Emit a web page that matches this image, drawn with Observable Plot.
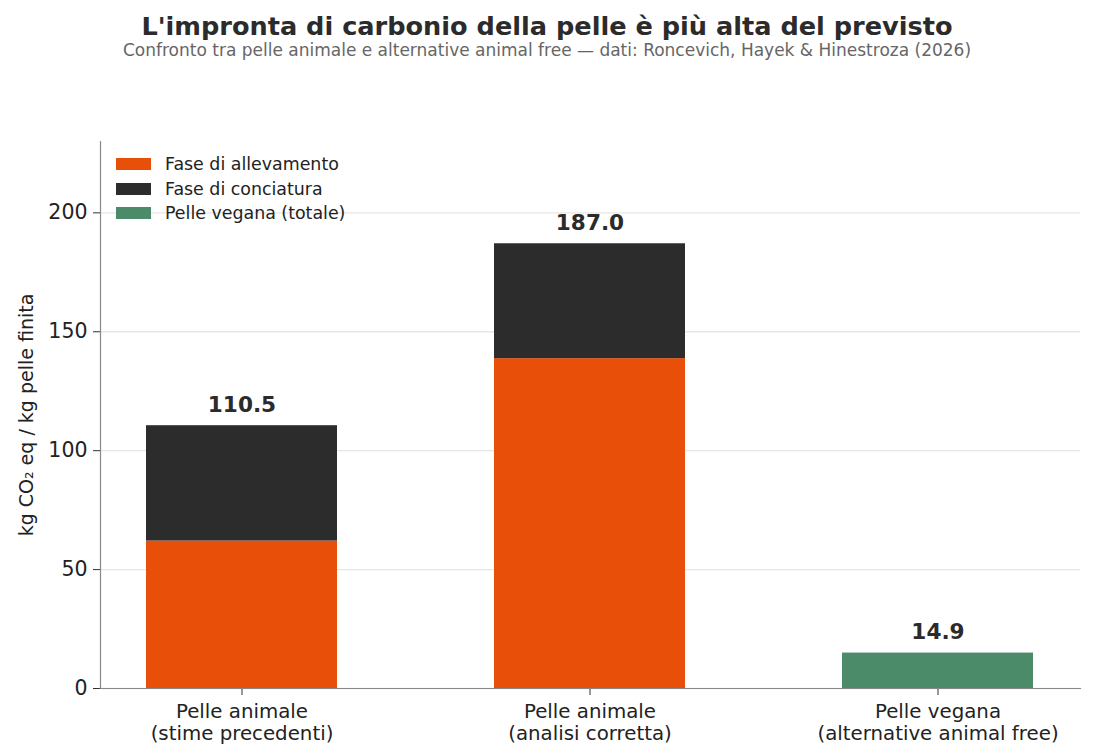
<!DOCTYPE html>
<html>
<head>
<meta charset="utf-8">
<script src="https://cdn.jsdelivr.net/npm/d3@7"></script>
<script src="https://cdn.jsdelivr.net/npm/@observablehq/plot@0.6"></script>
<style>
  html, body { margin: 0; padding: 0; background: white; }
  body { width: 1094px; height: 754px; position: relative; font-family: "DejaVu Sans", sans-serif; overflow: hidden; }
  #title { position: absolute; top: 11px; left: 0; width: 1094px; text-align: center; font-size: 25.6px; font-weight: bold; color: #2b2b2b; line-height: 30px; }
  #subtitle { position: absolute; top: 40px; left: 0; width: 1094px; text-align: center; font-size: 17px; color: #666; line-height: 20px; }
  #chart { position: absolute; top: 0; left: 0; }
  #legend { position: absolute; left: 116px; top: 152px; font-size: 17.4px; color: #222; }
  .row { display: flex; align-items: center; height: 24.5px; }
  .sw { width: 35px; height: 12px; margin-right: 14px; }
</style>
</head>
<body>
<div id="chart"></div>
<div id="title"></div>
<div id="subtitle"></div>
<div id="legend"></div>
<script>
const titleText = "L'impronta di carbonio della pelle è più alta del previsto";
const subtitleText = "Confronto tra pelle animale e alternative animal free — dati: Roncevich, Hayek & Hinestroza (2026)";
const yLabel = "kg CO₂ eq / kg pelle finita";

const categories = [
  "Pelle animale\n(stime precedenti)",
  "Pelle animale\n(analisi corretta)",
  "Pelle vegana\n(alternative animal free)"
];
const series = ["Fase di allevamento", "Fase di conciatura", "Pelle vegana (totale)"];
const allevamento = [62, 138.7, 0];
const conciatura = [48.5, 48.3, 0];
const vegana = [0, 0, 14.9];
const totals = [110.5, 187.0, 14.9];
const colors = ["#e8500a", "#2c2c2c", "#4c8b6a"];
const yTicks = [0, 50, 100, 150, 200];

document.getElementById("title").textContent = titleText;
document.getElementById("subtitle").textContent = subtitleText;

const data = [];
categories.forEach((c, i) => {
  [allevamento, conciatura, vegana].forEach((arr, s) => {
    if (arr[i] > 0) data.push({cat: c, series: series[s], value: arr[i]});
  });
});
const totalsData = categories.map((c, i) => ({cat: c, total: totals[i]}));

const chart = Plot.plot({
  width: 1094,
  height: 754,
  marginTop: 141,
  marginBottom: 66,
  marginLeft: 100,
  marginRight: 14,
  x: {domain: categories, paddingInner: 0.45, paddingOuter: 0.131, label: null},
  y: {domain: [0, 230], ticks: yTicks, label: null},
  color: {domain: series, range: colors},
  style: {fontFamily: "DejaVu Sans", fontSize: "19px", color: "#222", background: "white"},
  marks: [
    Plot.gridY(yTicks, {stroke: "#e6e6e6", strokeOpacity: 1, strokeWidth: 1.3}),
    Plot.barY(data, {x: "cat", y: "value", fill: "series"}),
    Plot.text(totalsData, {x: "cat", y: "total", text: d => d.total.toFixed(1), dy: -20.5, fontWeight: "bold", fontSize: 21.6, fill: "#2b2b2b"}),
    Plot.axisY(yTicks, {tickSize: 7, tickPadding: 6, label: null, stroke: "#333", fontSize: 20.5}),
    Plot.axisX({tickSize: 7, tickPadding: 7, lineHeight: 1.1, label: null, stroke: "#333", fontSize: 19.8}),
    Plot.frame({anchor: "left", stroke: "#888", strokeWidth: 1.2}),
    Plot.frame({anchor: "bottom", stroke: "#888", strokeWidth: 1.2}),
    Plot.text([yLabel], {frameAnchor: "left", textAnchor: "middle", rotate: -90, dx: -74, fontSize: 19, fill: "#222"})
  ]
});
document.getElementById("chart").appendChild(chart);

const legend = document.getElementById("legend");
series.forEach((s, i) => {
  const row = document.createElement("div");
  row.className = "row";
  const sw = document.createElement("div");
  sw.className = "sw";
  sw.style.background = colors[i];
  const t = document.createElement("span");
  t.textContent = s;
  row.appendChild(sw);
  row.appendChild(t);
  legend.appendChild(row);
});
</script>
</body>
</html>
